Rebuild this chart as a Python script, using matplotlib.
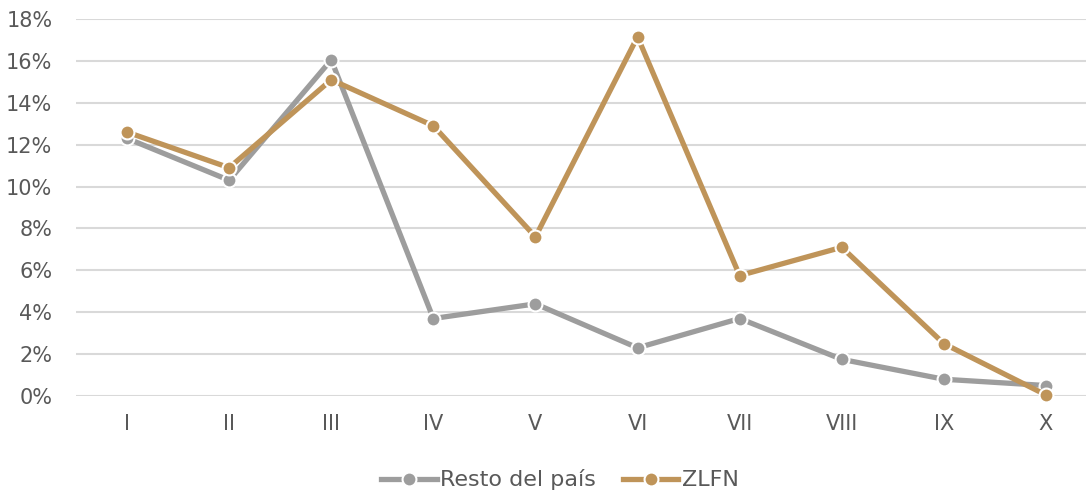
import matplotlib
matplotlib.use("Agg")
import matplotlib.pyplot as plt
from matplotlib.ticker import FuncFormatter

categories = ["I", "II", "III", "IV", "V", "VI", "VII", "VIII", "IX", "X"]
resto = [12.3, 10.3, 16.05, 3.7, 4.4, 2.3, 3.7, 1.75, 0.8, 0.5]
zlfn = [12.6, 10.9, 15.1, 12.9, 7.6, 17.15, 5.75, 7.1, 2.5, 0.05]
yticks = [0, 2, 4, 6, 8, 10, 12, 14, 16, 18]

plt.rcParams['font.family'] = ['DejaVu Sans']

W, H = 1086, 493
fig = plt.figure(figsize=(W/100, H/100), dpi=100)
left, right = 76, 1097
bottom, top = 396, 19
ax = fig.add_axes([left/W, 1 - bottom/H, (right-left)/W, (bottom-top)/H])
ax.set_xlim(-0.5, 9.5)
ax.set_ylim(0, 18)

gray = "#9d9d9d"
gold = "#bf9459"
x = list(range(len(categories)))
ax.plot(x, resto, color=gray, lw=3.8, marker="o", ms=10, mfc=gray, mec="white", mew=1.5,
        label="Resto del país", zorder=3, clip_on=False)
ax.plot(x, zlfn, color=gold, lw=3.8, marker="o", ms=10, mfc=gold, mec="white", mew=1.5,
        label="ZLFN", zorder=4, clip_on=False)

ax.set_yticks(yticks)
ax.yaxis.set_major_formatter(FuncFormatter(lambda v, p: f"{v:.0f}%"))
ax.set_xticks(x)
ax.set_xticklabels(categories)
ax.grid(axis="y", color="#d9d9d9", lw=1.5)
ax.set_axisbelow(True)
for s in ax.spines.values():
    s.set_visible(False)
ax.tick_params(axis="both", length=0, labelsize=15, labelcolor="#595959")
ax.tick_params(axis="y", pad=17)
ax.tick_params(axis="x", pad=13)

leg = fig.legend(loc="center", bbox_to_anchor=(560/W, 1 - 480/H), ncol=2, frameon=False,
                 fontsize=16, handlelength=2.5, columnspacing=1.2, handletextpad=0.15)
for t in leg.get_texts():
    t.set_color("#595959")

fig.savefig("out.png", dpi=100)
